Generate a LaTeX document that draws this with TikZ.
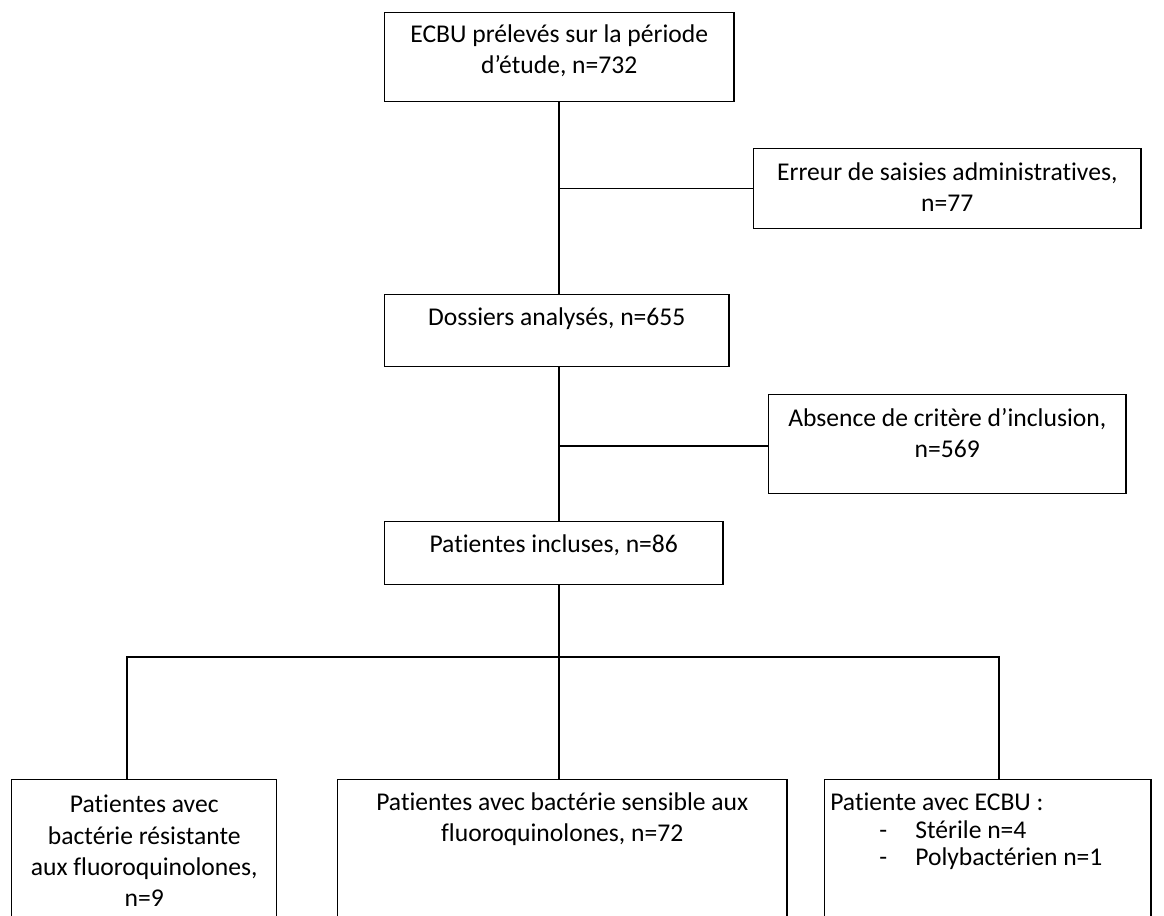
\documentclass[tikz,border=0pt]{standalone}
\usepackage{fontspec}
\setmainfont{Carlito}[Ligatures=NoCommon]
\usetikzlibrary{positioning}

\tikzset{
  box/.style={draw, line width=1pt, anchor=north west, inner sep=0pt},
  txt/.style={anchor=north, align=center, inner sep=0pt, font=\fontsize{18.2}{22.2}\selectfont},
  link/.style={draw, line width=1pt},
}

\begin{document}
\begin{tikzpicture}[x=0.025cm, y=-0.025cm]
  \clip (0,0) rectangle (1164,915);
  % boxes
  \node[box, minimum width=8.725cm, minimum height=2.225cm] (ecbu) at (384,12) {};
  \node[box, minimum width=9.675cm, minimum height=2cm] (erreur) at (753,148) {};
  \node[box, minimum width=8.6cm, minimum height=1.8cm] (dossiers) at (384,294) {};
  \node[box, minimum width=8.925cm, minimum height=2.475cm] (absence) at (768,394) {};
  \node[box, minimum width=8.45cm, minimum height=1.575cm] (incluses) at (384,521) {};
  \node[box, minimum width=6.625cm, minimum height=5cm] (resist) at (11,779) {};
  \node[box, minimum width=11.225cm, minimum height=5cm] (sensible) at (337,779) {};
  \node[box, minimum width=8.15cm, minimum height=5cm] (ecbures) at (824,779) {};
  % texts
  \node[txt, below=0.3cm of ecbu.north] (ecbutxt) {ECBU prélevés sur la période\\d’étude, n=732};
  \node[txt, below=0.35cm of erreur.north] (erreurtxt) {Erreur de saisies administratives,\\n=77};
  \node[txt, below=0.325cm of dossiers.north] (dossierstxt) {Dossiers analysés, n=655};
  \node[txt, below=0.35cm of absence.north] (absencetxt) {Absence de critère d’inclusion,\\n=569};
  \node[txt, below=0.325cm of incluses.north] (inclusestxt) {Patientes incluses, n=86};
  \node[txt, below=0.4cm of resist.north] (resisttxt) {Patientes avec\\bactérie résistante\\aux fluoroquinolones,\\n=9};
  \node[txt, below=0.325cm of sensible.north] (sensibletxt) {Patientes avec bactérie sensible aux\\fluoroquinolones, n=72};
  \node[txt, align=left, anchor=north west, font=\fontsize{18.2}{19.5}\selectfont,
        below right=0.35cm and 0.15cm of ecbures.north west] (ecburestxt)
    {Patiente avec ECBU :\\
     \hspace*{1.225cm}\makebox[0.9cm][l]{-}Stérile n=4\\
     \hspace*{1.225cm}\makebox[0.9cm][l]{-}Polybactérien n=1};
  % connectors
  \coordinate (spine) at (559,0);
  \coordinate (forkL) at (127,657);
  \coordinate (forkR) at (999,657);
  \path[link] (ecbu.south -| spine) -- (dossiers.north -| spine);
  \path[link] (dossiers.south -| spine) -- (incluses.north -| spine);
  \path[link] (erreur.west -| spine) -- (erreur.west);
  \path[link] (spine |- 0,446) -- (absence.west |- 0,446);
  \path[link] (incluses.south -| spine) -- (sensible.north -| spine);
  \path[link] (resist.north -| forkL) -- (forkL) -- (forkR) -- (ecbures.north -| forkR);
\end{tikzpicture}
\end{document}
